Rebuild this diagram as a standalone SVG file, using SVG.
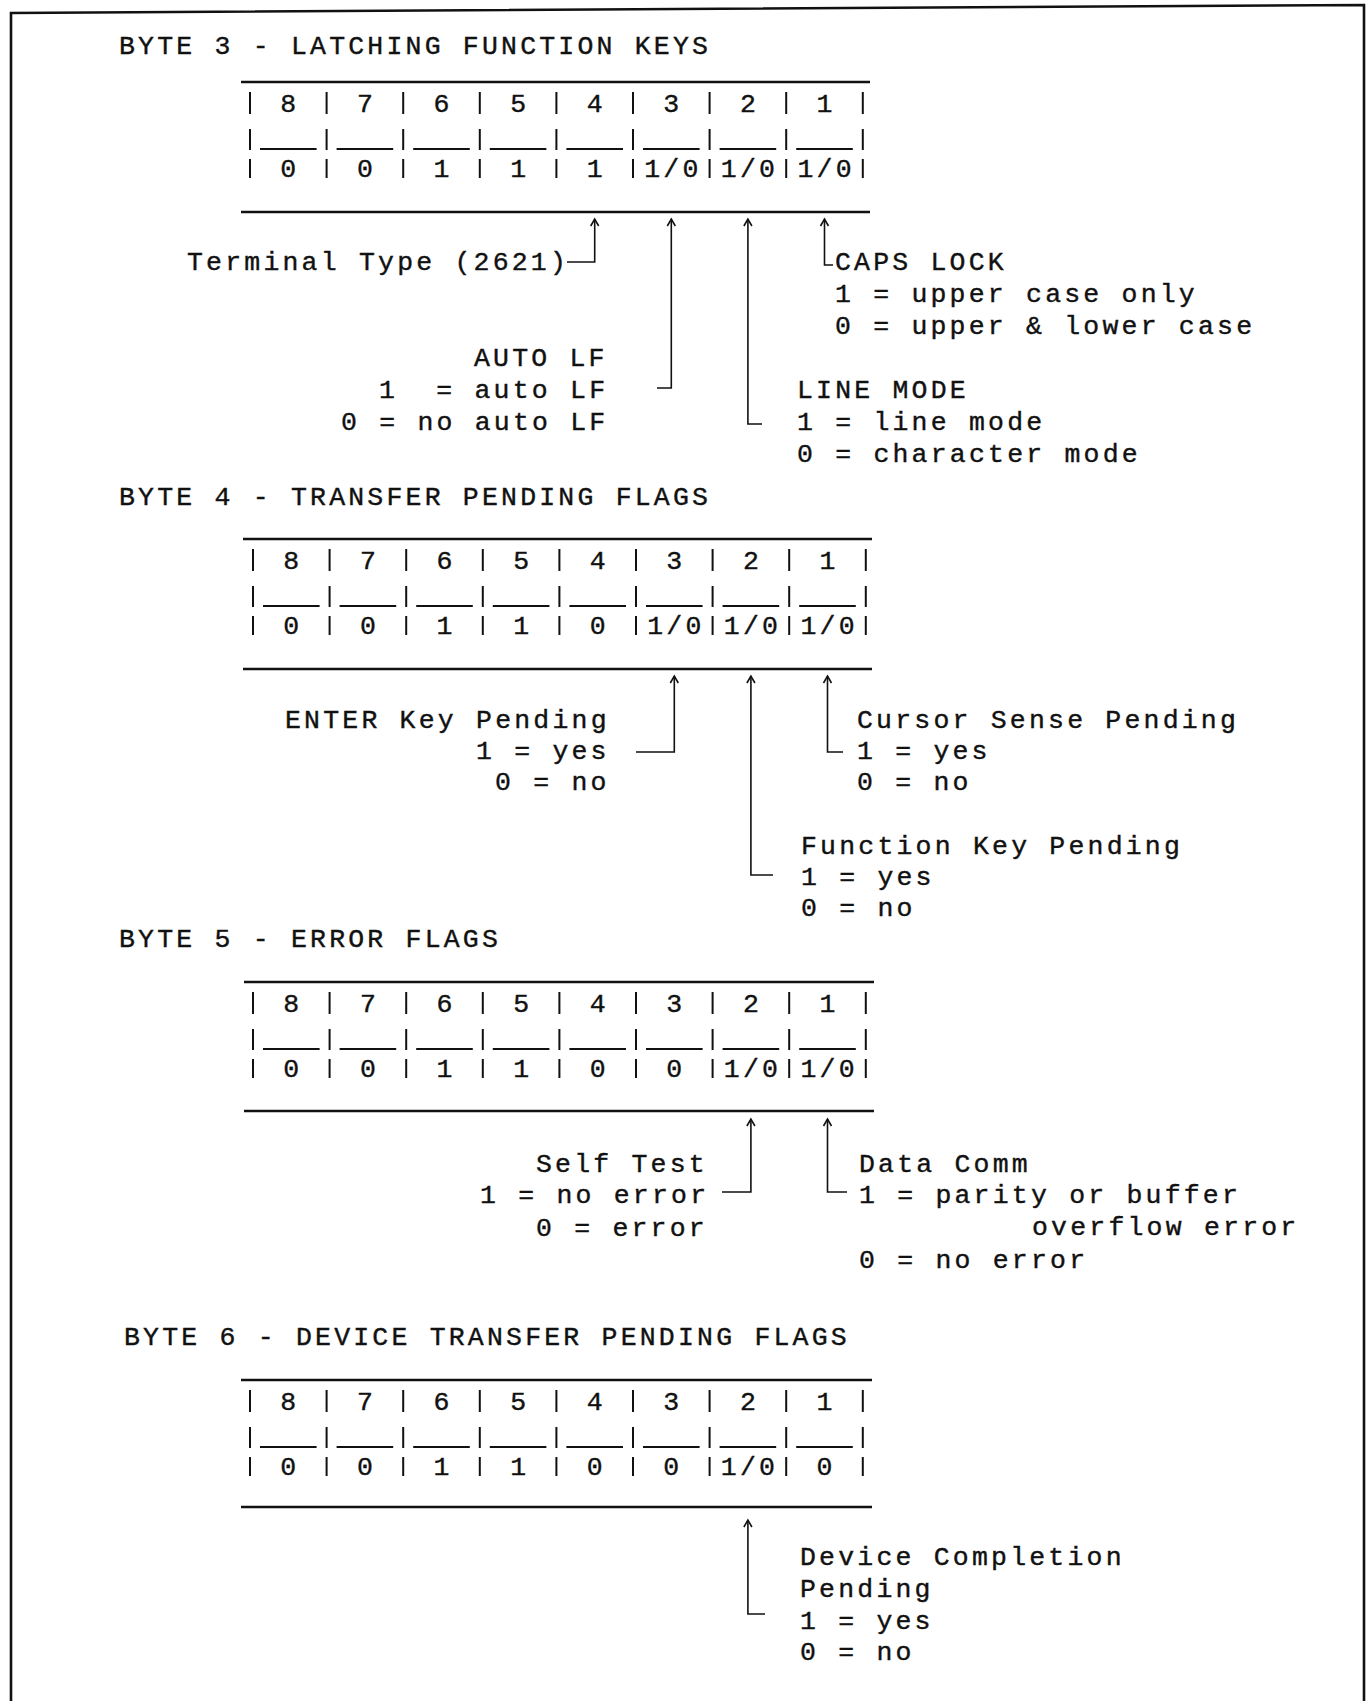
<svg xmlns="http://www.w3.org/2000/svg" width="1372" height="1701" viewBox="0 0 1372 1701" xml:space="preserve">
<style>
text{font-family:"Liberation Mono","DejaVu Sans Mono",monospace;font-size:26.5px;fill:#111;stroke:#111;stroke-width:0.4;letter-spacing:3.2px;white-space:pre}
.d{text-anchor:middle;letter-spacing:0}
.dd{text-anchor:middle}
.rule{stroke:#111;stroke-width:2.6;fill:none}
.bar{stroke:#111;stroke-width:2;fill:none}
.conn{stroke:#111;stroke-width:1.6;fill:none}
</style>
<defs>
<marker id="ah" viewBox="-9 -6 11 12" markerWidth="11" markerHeight="12" refX="0" refY="0" orient="auto-start-reverse" markerUnits="userSpaceOnUse">
<path d="M-7,-4 L0,0 L-7,4" stroke="#111" stroke-width="1.6" fill="none"/>
</marker>
</defs>
<rect width="1372" height="1701" fill="#fff"/>
<path id="frame" d="M11,1701 V13 L1364,5 V1701" stroke="#111" stroke-width="2.6" fill="none"/>

<!-- BYTE 3 -->
<g id="byte3">
<text x="119" y="54">BYTE 3 - LATCHING FUNCTION KEYS</text>
<g id="table3">
<line class="rule" x1="241" y1="82" x2="870" y2="82"/>
<line class="rule" x1="241" y1="212" x2="870" y2="212"/>
<path class="bar" d="M250,92V114M326.6,92V114M403.2,92V114M479.8,92V114M556.4,92V114M633,92V114M709.6,92V114M786.2,92V114M862.8,92V114"/>
<path class="bar" d="M250,129V150M326.6,129V150M403.2,129V150M479.8,129V150M556.4,129V150M633,129V150M709.6,129V150M786.2,129V150M862.8,129V150"/>
<path class="bar" d="M260,149H316.6M336.6,149H393.2M413.2,149H469.8M489.8,149H546.4M566.4,149H623M643,149H699.6M719.6,149H776.2M796.2,149H852.8"/>
<path class="bar" d="M250,159V178M326.6,159V178M403.2,159V178M479.8,159V178M556.4,159V178M633,159V178M709.6,159V178M786.2,159V178M862.8,159V178"/>
<text class="d" x="288.3" y="112">8</text><text class="d" x="364.9" y="112">7</text><text class="d" x="441.5" y="112">6</text><text class="d" x="518.1" y="112">5</text><text class="d" x="594.7" y="112">4</text><text class="d" x="671.3" y="112">3</text><text class="d" x="747.9" y="112">2</text><text class="d" x="824.5" y="112">1</text>
<text class="d" x="288.3" y="177">0</text><text class="d" x="364.9" y="177">0</text><text class="d" x="441.5" y="177">1</text><text class="d" x="518.1" y="177">1</text><text class="d" x="594.7" y="177">1</text><text class="dd" x="672.9" y="177">1/0</text><text class="dd" x="749.5" y="177">1/0</text><text class="dd" x="826.1" y="177">1/0</text>
</g>
<g id="b3-terminal"><text x="187" y="270">Terminal Type (2621)</text></g>
<g id="b3-caps"><text x="835" y="270">CAPS LOCK</text><text x="835" y="302">1 = upper case only</text><text x="835" y="334">0 = upper &amp; lower case</text></g>
<g id="b3-autolf"><text x="474" y="366">AUTO LF</text><text x="379" y="398">1  = auto LF</text><text x="341" y="430">0 = no auto LF</text></g>
<g id="b3-line"><text x="797" y="398">LINE MODE</text><text x="797" y="430">1 = line mode</text><text x="797" y="462">0 = character mode</text></g>
</g>

<!-- BYTE 4 -->
<g id="byte4">
<text x="119" y="505">BYTE 4 - TRANSFER PENDING FLAGS</text>
<g id="table4">
<line class="rule" x1="243" y1="539" x2="872" y2="539"/>
<line class="rule" x1="243" y1="669" x2="872" y2="669"/>
<path class="bar" d="M253,549V571M329.6,549V571M406.2,549V571M482.8,549V571M559.4,549V571M636,549V571M712.6,549V571M789.2,549V571M865.8,549V571"/>
<path class="bar" d="M253,586V607M329.6,586V607M406.2,586V607M482.8,586V607M559.4,586V607M636,586V607M712.6,586V607M789.2,586V607M865.8,586V607"/>
<path class="bar" d="M263,606H319.6M339.6,606H396.2M416.2,606H472.8M492.8,606H549.4M569.4,606H626M646,606H702.6M722.6,606H779.2M799.2,606H855.8"/>
<path class="bar" d="M253,616V635M329.6,616V635M406.2,616V635M482.8,616V635M559.4,616V635M636,616V635M712.6,616V635M789.2,616V635M865.8,616V635"/>
<text class="d" x="291.3" y="569">8</text><text class="d" x="367.9" y="569">7</text><text class="d" x="444.5" y="569">6</text><text class="d" x="521.1" y="569">5</text><text class="d" x="597.7" y="569">4</text><text class="d" x="674.3" y="569">3</text><text class="d" x="750.9" y="569">2</text><text class="d" x="827.5" y="569">1</text>
<text class="d" x="291.3" y="634">0</text><text class="d" x="367.9" y="634">0</text><text class="d" x="444.5" y="634">1</text><text class="d" x="521.1" y="634">1</text><text class="d" x="597.7" y="634">0</text><text class="dd" x="675.9" y="634">1/0</text><text class="dd" x="752.5" y="634">1/0</text><text class="dd" x="829.1" y="634">1/0</text>
</g>
<g id="b4-enter"><text x="285" y="728">ENTER Key Pending</text><text x="476" y="759">1 = yes</text><text x="495" y="790">0 = no</text></g>
<g id="b4-cursor"><text x="857" y="728">Cursor Sense Pending</text><text x="857" y="759">1 = yes</text><text x="857" y="790">0 = no</text></g>
<g id="b4-function"><text x="801" y="854">Function Key Pending</text><text x="801" y="885">1 = yes</text><text x="801" y="916">0 = no</text></g>
</g>

<!-- BYTE 5 -->
<g id="byte5">
<text x="119" y="947">BYTE 5 - ERROR FLAGS</text>
<g id="table5">
<line class="rule" x1="244" y1="982" x2="874" y2="982"/>
<line class="rule" x1="244" y1="1111" x2="874" y2="1111"/>
<path class="bar" d="M253,992V1014M329.6,992V1014M406.2,992V1014M482.8,992V1014M559.4,992V1014M636,992V1014M712.6,992V1014M789.2,992V1014M865.8,992V1014"/>
<path class="bar" d="M253,1029V1050M329.6,1029V1050M406.2,1029V1050M482.8,1029V1050M559.4,1029V1050M636,1029V1050M712.6,1029V1050M789.2,1029V1050M865.8,1029V1050"/>
<path class="bar" d="M263,1049H319.6M339.6,1049H396.2M416.2,1049H472.8M492.8,1049H549.4M569.4,1049H626M646,1049H702.6M722.6,1049H779.2M799.2,1049H855.8"/>
<path class="bar" d="M253,1059V1078M329.6,1059V1078M406.2,1059V1078M482.8,1059V1078M559.4,1059V1078M636,1059V1078M712.6,1059V1078M789.2,1059V1078M865.8,1059V1078"/>
<text class="d" x="291.3" y="1012">8</text><text class="d" x="367.9" y="1012">7</text><text class="d" x="444.5" y="1012">6</text><text class="d" x="521.1" y="1012">5</text><text class="d" x="597.7" y="1012">4</text><text class="d" x="674.3" y="1012">3</text><text class="d" x="750.9" y="1012">2</text><text class="d" x="827.5" y="1012">1</text>
<text class="d" x="291.3" y="1077">0</text><text class="d" x="367.9" y="1077">0</text><text class="d" x="444.5" y="1077">1</text><text class="d" x="521.1" y="1077">1</text><text class="d" x="597.7" y="1077">0</text><text class="d" x="674.3" y="1077">0</text><text class="dd" x="752.5" y="1077">1/0</text><text class="dd" x="829.1" y="1077">1/0</text>
</g>
<g id="b5-selftest"><text x="536" y="1172">Self Test</text><text x="480" y="1203">1 = no error</text><text x="536" y="1236">0 = error</text></g>
<g id="b5-datacomm"><text x="859" y="1172">Data Comm</text><text x="859" y="1203">1 = parity or buffer</text><text x="1032" y="1235">overflow error</text><text x="859" y="1268">0 = no error</text></g>
</g>

<!-- BYTE 6 -->
<g id="byte6">
<text x="124" y="1345">BYTE 6 - DEVICE TRANSFER PENDING FLAGS</text>
<g id="table6">
<line class="rule" x1="241" y1="1380" x2="872" y2="1380"/>
<line class="rule" x1="241" y1="1507" x2="872" y2="1507"/>
<path class="bar" d="M250,1390V1412M326.6,1390V1412M403.2,1390V1412M479.8,1390V1412M556.4,1390V1412M633,1390V1412M709.6,1390V1412M786.2,1390V1412M862.8,1390V1412"/>
<path class="bar" d="M250,1427V1448M326.6,1427V1448M403.2,1427V1448M479.8,1427V1448M556.4,1427V1448M633,1427V1448M709.6,1427V1448M786.2,1427V1448M862.8,1427V1448"/>
<path class="bar" d="M260,1447H316.6M336.6,1447H393.2M413.2,1447H469.8M489.8,1447H546.4M566.4,1447H623M643,1447H699.6M719.6,1447H776.2M796.2,1447H852.8"/>
<path class="bar" d="M250,1457V1476M326.6,1457V1476M403.2,1457V1476M479.8,1457V1476M556.4,1457V1476M633,1457V1476M709.6,1457V1476M786.2,1457V1476M862.8,1457V1476"/>
<text class="d" x="288.3" y="1410">8</text><text class="d" x="364.9" y="1410">7</text><text class="d" x="441.5" y="1410">6</text><text class="d" x="518.1" y="1410">5</text><text class="d" x="594.7" y="1410">4</text><text class="d" x="671.3" y="1410">3</text><text class="d" x="747.9" y="1410">2</text><text class="d" x="824.5" y="1410">1</text>
<text class="d" x="288.3" y="1475">0</text><text class="d" x="364.9" y="1475">0</text><text class="d" x="441.5" y="1475">1</text><text class="d" x="518.1" y="1475">1</text><text class="d" x="594.7" y="1475">0</text><text class="d" x="671.3" y="1475">0</text><text class="dd" x="749.5" y="1475">1/0</text><text class="d" x="824.5" y="1475">0</text>
</g>
<g id="b6-device"><text x="800" y="1565">Device Completion</text><text x="800" y="1597">Pending</text><text x="800" y="1629">1 = yes</text><text x="800" y="1660">0 = no</text></g>
</g>

<g id="connectors">
<path class="conn" marker-start="url(#ah)" d="M594.7,219 V262 H567"/>
<path class="conn" marker-start="url(#ah)" d="M671.3,219 V388 H657"/>
<path class="conn" marker-start="url(#ah)" d="M747.9,219 V424 H762"/>
<path class="conn" marker-start="url(#ah)" d="M824.5,219 V265 H833"/>
<path class="conn" marker-start="url(#ah)" d="M674.3,676 V752 H636"/>
<path class="conn" marker-start="url(#ah)" d="M750.9,676 V875 H773"/>
<path class="conn" marker-start="url(#ah)" d="M827.5,676 V752 H843"/>
<path class="conn" marker-start="url(#ah)" d="M750.9,1119 V1192 H722"/>
<path class="conn" marker-start="url(#ah)" d="M827.5,1119 V1192 H847"/>
<path class="conn" marker-start="url(#ah)" d="M747.9,1520 V1614 H765"/>
</g>
</svg>
